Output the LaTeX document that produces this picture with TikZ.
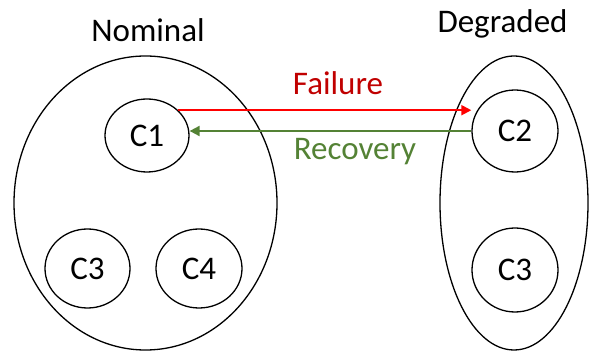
\documentclass[tikz,border=0pt]{standalone}
\usepackage{fontspec}
\setmainfont{Carlito}
\usetikzlibrary{shapes.geometric,arrows.meta}
\definecolor{failtext}{HTML}{C00000}
\definecolor{failline}{HTML}{FF0000}
\definecolor{recov}{HTML}{548235}
\tikzset{
  blob/.style={ellipse,draw=black,line width=1.3pt,inner sep=0pt,font=\fontsize{33}{40}\selectfont},
  lbl/.style={anchor=base,inner sep=0pt,font=\fontsize{33}{40}\selectfont},
  arr/.style={line width=2pt,-{Triangle[length=10pt,width=10pt]}}
}
\begin{document}
\begin{tikzpicture}[x=1pt,y=-1pt]
\useasboundingbox (0,0) rectangle (589,352);
\node[blob,minimum width=263pt,minimum height=294pt] (nom) at (145.5,203) {};
\node[blob,minimum width=148pt,minimum height=294pt] (deg) at (514,203) {};
\node[blob,minimum width=84pt,minimum height=73pt] (c1) at (147,135.5) {C1};
\node[blob,minimum width=85pt,minimum height=79pt] (c3a) at (87.5,268.5) {C3};
\node[blob,minimum width=86pt,minimum height=79pt] (c4) at (199,268.5) {C4};
\node[blob,minimum width=86pt,minimum height=82pt] (c2) at (515,131) {C2};
\node[blob,minimum width=86pt,minimum height=84pt] (c3b) at (515,270) {C3};
\node[lbl] (tnom) at (148,41.7) {Nominal};
\node[lbl] (tdeg) at (502.5,33) {Degraded};
\node[lbl,text=failtext] (tfail) at (338,95) {Failure};
\node[lbl,text=recov] (trec) at (355,160) {Recovery};
\draw[arr,failline] (c1.39) -- (c1.39 -| c2.west);
\draw[arr,recov] (c2.west) -- (c2.west -| c1.east);
\end{tikzpicture}
\end{document}
